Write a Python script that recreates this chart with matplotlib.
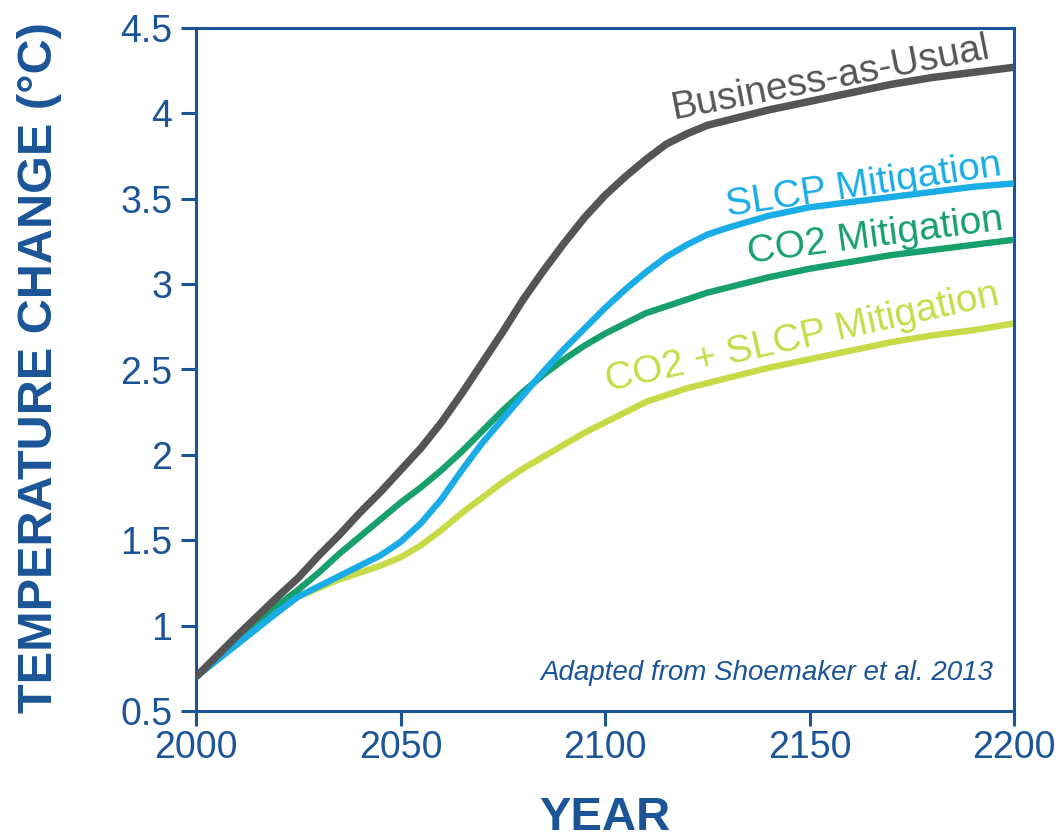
import matplotlib
matplotlib.use("Agg")
import matplotlib.pyplot as plt

years = [2000, 2010, 2020, 2025, 2030, 2035, 2040, 2045, 2050, 2055, 2060, 2065, 2070,
         2075, 2080, 2085, 2090, 2095, 2100, 2105, 2110, 2115, 2120, 2125, 2130, 2140,
         2150, 2160, 2170, 2180, 2190, 2200]
bau = [0.70, 0.94, 1.17, 1.28, 1.41, 1.53, 1.66, 1.78, 1.91, 2.04, 2.19, 2.36, 2.54,
       2.72, 2.91, 3.08, 3.24, 3.39, 3.52, 3.63, 3.73, 3.82, 3.88, 3.93, 3.96, 4.02,
       4.07, 4.12, 4.17, 4.21, 4.24, 4.27]
slcp = [0.70, 0.89, 1.08, 1.17, 1.23, 1.29, 1.35, 1.41, 1.49, 1.60, 1.74, 1.91, 2.07,
        2.21, 2.35, 2.49, 2.62, 2.74, 2.86, 2.97, 3.07, 3.16, 3.23, 3.29, 3.33, 3.40,
        3.45, 3.48, 3.51, 3.54, 3.57, 3.59]
co2 = [0.70, 0.91, 1.12, 1.21, 1.31, 1.42, 1.52, 1.62, 1.72, 1.81, 1.91, 2.02, 2.14,
       2.26, 2.37, 2.47, 2.56, 2.64, 2.71, 2.77, 2.83, 2.87, 2.91, 2.95, 2.98, 3.04,
       3.09, 3.13, 3.17, 3.20, 3.23, 3.26]
both = [0.70, 0.89, 1.08, 1.17, 1.22, 1.27, 1.31, 1.35, 1.40, 1.47, 1.56, 1.66, 1.75,
        1.84, 1.92, 1.99, 2.06, 2.13, 2.19, 2.25, 2.31, 2.35, 2.39, 2.42, 2.45, 2.51,
        2.56, 2.61, 2.66, 2.70, 2.73, 2.77]

labels = ["Business-as-Usual", "SLCP Mitigation", "CO2 Mitigation", "CO2 + SLCP Mitigation"]
xticks = [2000, 2050, 2100, 2150, 2200]
yticks = [0.5, 1, 1.5, 2, 2.5, 3, 3.5, 4, 4.5]
ytick_labels = ["0.5", "1", "1.5", "2", "2.5", "3", "3.5", "4", "4.5"]

AX = "#1b5597"
C_BAU = "#555555"
C_SLCP = "#19ace6"
C_CO2 = "#17a06b"
C_BOTH = "#c7db48"

plt.rcParams['font.family'] = ['Liberation Sans', 'DejaVu Sans']

fig = plt.figure(figsize=(10.58, 8.38), dpi=100)
ax = fig.add_axes([196/1058, 1 - 711/838, (1014-196)/1058, (711-28)/838])

kw = dict(solid_capstyle='butt', solid_joinstyle='round')
ax.plot(years, both, color=C_BOTH, lw=4.6, zorder=2, **kw)
ax.plot(years, co2, color=C_CO2, lw=4.6, zorder=3, **kw)
ax.plot(years, slcp, color=C_SLCP, lw=4.6, zorder=4, **kw)
ax.plot(years, bau, color=C_BAU, lw=5.4, zorder=5, **kw)

ax.set_xlim(2000, 2200)
ax.set_ylim(0.5, 4.5)
ax.set_xticks(xticks)
ax.set_xticklabels([str(v) for v in xticks])
ax.set_yticks(yticks)
ax.set_yticklabels(ytick_labels)

for s in ax.spines.values():
    s.set_color(AX)
    s.set_linewidth(2.2)
ax.tick_params(axis='both', colors=AX, width=2.2, length=11, labelsize=27,
               labelcolor=AX)
ax.tick_params(axis='x', pad=3)
ax.tick_params(axis='y', pad=6)

tkw = dict(ha='center', va='baseline', rotation_mode='anchor', fontsize=28)
ax.text(2155.7, 4.15, labels[0], color=C_BAU, rotation=11, **tkw)
ax.text(2163.6, 3.52, labels[1], color=C_SLCP, rotation=8.5, **tkw)
ax.text(2166.5, 3.22, labels[2], color=C_CO2, rotation=7.5, **tkw)
ax.text(2148.9, 2.63, labels[3], color=C_BOTH, rotation=12.5, **tkw)

ax.text(0.975, 0.045, "Adapted from Shoemaker et al. 2013", transform=ax.transAxes,
        ha='right', va='baseline', fontsize=20, style='italic', color=AX)

fig.text(605/1058, 1 - 818/838, "YEAR", ha='center', va='center', fontsize=34,
         fontweight='bold', color=AX)
fig.text(40/1058, 1 - 368/838, "TEMPERATURE CHANGE (°C)", ha='center', va='center',
         rotation=90, fontsize=35, fontweight='bold', color=AX)

fig.savefig("out.png", dpi=100)
